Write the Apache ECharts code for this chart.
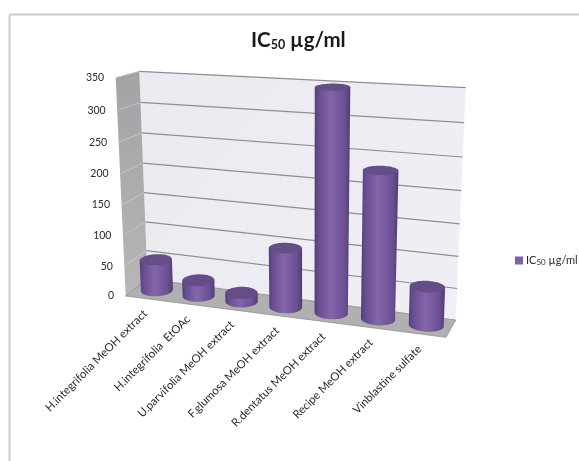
<!DOCTYPE html>
<html>
<head>
<meta charset="utf-8">
<style>html,body{margin:0;padding:0;background:#fff}#chart{width:579px;height:461px}</style>
<script src="https://cdn.jsdelivr.net/npm/echarts@6/dist/echarts.min.js"></script>
</head>
<body>
<div id="chart"></div>
<script>
const categories = ['H.integrifolia MeOH extract', 'H.integrifolia  EtOAc', 'U.parvifolia MeOH extract',
  'F.glumosa MeOH extract', 'R.dentatus MeOH extract', 'Recipe MeOH extract', 'Vinblastine sulfate'];
const icValues = [52, 26, 14, 96, 349, 231, 61];
const yTicks = [0, 50, 100, 150, 200, 250, 300, 350];
const seriesName = 'IC50 µg/ml';

// Plot rectangle of the flat cartesian grid, later projected onto the 3D box.
const GRID = { left: 140, top: 72, width: 320, height: 250 };

// Corners of the box planes, ordered bottom-left, bottom-right, top-right, top-left.
const BACK_PLANE = [[147.5, 279], [455.7, 320], [465.7, 87.7], [139.3, 71.3]];
const FRONT_PLANE = [[125.7, 296], [446, 337.3], [453, 100], [115.7, 77.7]];

// Unit square to quadrilateral homography.
function squareToQuad(q) {
  const [[x0, y0], [x1, y1], [x2, y2], [x3, y3]] = q;
  const dx1 = x1 - x2, dx2 = x3 - x2, sx = x0 - x1 + x2 - x3;
  const dy1 = y1 - y2, dy2 = y3 - y2, sy = y0 - y1 + y2 - y3;
  const den = dx1 * dy2 - dx2 * dy1;
  const g = (sx * dy2 - dx2 * sy) / den;
  const h = (dx1 * sy - sx * dy1) / den;
  const a = x1 - x0 + g * x1, b = x3 - x0 + h * x3, c = x0;
  const d = y1 - y0 + g * y1, e = y3 - y0 + h * y3, f = y0;
  return (u, w) => {
    const k = g * u + h * w + 1;
    return [(a * u + b * w + c) / k, (d * u + e * w + f) / k];
  };
}
const backMap = squareToQuad(BACK_PLANE);
const frontMap = squareToQuad(FRONT_PLANE);

// Grid pixel plus depth (0 = back wall, 1 = front edge) to screen position.
function project(px, py, depth) {
  const u = (px - GRID.left) / GRID.width;
  const w = 1 - (py - GRID.top) / GRID.height;
  const b = backMap(u, w), f = frontMap(u, w);
  return [b[0] + (f[0] - b[0]) * depth, b[1] + (f[1] - b[1]) * depth];
}

const BAR_RADIUS = 0.35;    // share of a category band
const DEPTH_RADIUS = 0.34;  // share of the floor depth

function ring(cx, py, band) {
  const pts = [];
  for (let i = 0; i < 64; i++) {
    const t = i / 64 * Math.PI * 2;
    pts.push(project(cx + Math.cos(t) * band * BAR_RADIUS, py, 0.5 + Math.sin(t) * DEPTH_RADIUS));
  }
  return pts;
}

function cylinder(params, api) {
  const cat = api.value(0), val = api.value(1);
  const top = api.coord([cat, val]);
  const base = api.coord([cat, 0]);
  const band = api.size([1, 0])[0];
  const topRing = ring(top[0], top[1], band);
  const baseRing = ring(base[0], base[1], band);
  const extreme = (r, sign) => r.reduce((best, p, i) => (p[0] * sign > r[best][0] * sign ? i : best), 0);
  const iRight = extreme(baseRing, 1), iLeft = extreme(baseRing, -1);
  const lower = [];
  for (let i = iRight; ; i = (i + 1) % 64) {
    lower.push(baseRing[i]);
    if (i === iLeft) break;
  }
  const body = [topRing[extreme(topRing, -1)], topRing[extreme(topRing, 1)]].concat(lower);
  return {
    type: 'group',
    children: [
      {
        type: 'polygon',
        shape: { points: body },
        style: {
          fill: new echarts.graphic.LinearGradient(0, 0, 1, 0, [
            { offset: 0, color: '#523d75' },
            { offset: 0.1, color: '#664c8f' },
            { offset: 0.45, color: '#8465ab' },
            { offset: 0.85, color: '#6a4f93' },
            { offset: 1, color: '#503c72' }
          ])
        }
      },
      { type: 'polygon', shape: { points: topRing }, style: { fill: '#654d85' } }
    ]
  };
}

// Back wall, side wall and floor of the box.
function box(params, api) {
  const l = GRID.left, r = GRID.left + GRID.width;
  const t = api.coord([0, 350])[1], b = api.coord([0, 0])[1];
  return {
    type: 'group',
    children: [
      {
        type: 'polygon',
        shape: { points: [project(l, b, 0), project(r, b, 0), project(r, t, 0), project(l, t, 0)] },
        style: {
          fill: new echarts.graphic.LinearGradient(0, 0, 1, 1, [
            { offset: 0, color: '#ebeaf0' },
            { offset: 1, color: '#f1eff6' }
          ])
        }
      },
      {
        type: 'polygon',
        shape: { points: [project(l, b, 1), project(l, b, 0), project(l, t, 0), project(l, t, 1)] },
        style: {
          fill: new echarts.graphic.LinearGradient(0, 0, 0, 1, [
            { offset: 0, color: '#a3a3a5' },
            { offset: 1, color: '#b6b6b9' }
          ])
        }
      },
      {
        type: 'polygon',
        shape: { points: [project(l, b, 1), project(r, b, 1), project(r, b, 0), project(l, b, 0)] },
        style: { fill: '#b0afb1', stroke: '#8e8d8f', lineWidth: 0.8 }
      }
    ]
  };
}

// One gridline along the side wall and the back wall, with its tick label.
function gridLine(params, api) {
  const v = api.value(0);
  const y = api.coord([0, v])[1];
  const l = GRID.left, r = GRID.left + GRID.width;
  const a = project(l, y, 1), c = project(l, y, 0), d = project(r, y, 0);
  const kids = [{
    type: 'text',
    x: a[0] - 11.5,
    y: a[1],
    style: { text: String(v), fill: '#2a2a2a', font: '10.5px Lato', textAlign: 'right', textVerticalAlign: 'middle' }
  }];
  if (v > 0) {
    kids.push({ type: 'line', shape: { x1: a[0], y1: a[1], x2: c[0], y2: c[1] }, style: { stroke: '#c4c4c6', lineWidth: 1 } });
    kids.push({ type: 'line', shape: { x1: c[0], y1: c[1], x2: d[0], y2: d[1] }, style: { stroke: '#8f8e90', lineWidth: 1.2 } });
  }
  return { type: 'group', children: kids };
}

// Slanted category label hanging under the front edge of the floor.
function categoryLabel(params, api) {
  const i = api.value(0);
  const p = api.coord([i, 0]);
  const q = project(p[0], p[1], 1);
  return {
    type: 'text',
    x: q[0] - 1.5,
    y: q[1] + 13,
    rotation: Math.PI / 4,
    style: { text: categories[i], fill: '#2a2a2a', font: '11.3px Lato', textAlign: 'right', textVerticalAlign: 'middle' }
  };
}

const richTitle = {
  a: { fontFamily: 'Lato', fontSize: 20.5, fontWeight: 'bold', color: '#1a1a1a' },
  b: { fontFamily: 'Lato', fontSize: 12.5, fontWeight: 'bold', color: '#1a1a1a', verticalAlign: 'bottom', padding: [6, 0, 0, 0] }
};
const richLegend = {
  a: { fontFamily: 'Lato', fontSize: 11, color: '#2a2a2a' },
  b: { fontFamily: 'Lato', fontSize: 8, color: '#2a2a2a', verticalAlign: 'bottom', padding: [3, 0, 0, 0] }
};

const chart = echarts.init(document.getElementById('chart'), null, { renderer: 'canvas' });
chart.setOption({
  animation: false,
  backgroundColor: '#ffffff',
  color: ['#7f61a5'],
  title: {
    text: '{a|IC}{b|50}{a| µg/ml}',
    left: 251,
    top: 30,
    padding: 0,
    textStyle: { rich: richTitle }
  },
  legend: {
    data: [seriesName],
    left: 515,
    top: 255,
    padding: 0,
    itemWidth: 8,
    itemHeight: 8,
    itemGap: 0,
    icon: 'rect',
    formatter: () => '{a|IC}{b|50}{a| µg/ml}',
    textStyle: { rich: richLegend, padding: [0, 0, 0, -2] }
  },
  grid: GRID,
  xAxis: { type: 'category', data: categories, show: false },
  yAxis: { type: 'value', min: 0, max: 350, interval: 50, show: false },
  graphic: [
    { type: 'line', silent: true, shape: { x1: 9.5, y1: 14.5, x2: 579, y2: 14.5 }, style: { stroke: '#c9c9c9', lineWidth: 2 } },
    { type: 'line', silent: true, shape: { x1: 9.5, y1: 14.5, x2: 9.5, y2: 461 }, style: { stroke: '#c9c9c9', lineWidth: 2 } }
  ],
  series: [
    { type: 'custom', name: 'box', silent: true, clip: false, z: 1, data: [[0]], encode: { x: 0 }, renderItem: box },
    { type: 'custom', name: 'gridlines', silent: true, clip: false, z: 2, data: yTicks.map(v => [v]), encode: { y: 0 }, renderItem: gridLine },
    { type: 'custom', name: 'labels', silent: true, clip: false, z: 2, data: categories.map((c, i) => [i]), encode: { x: 0 }, renderItem: categoryLabel },
    {
      type: 'custom',
      name: seriesName,
      clip: false,
      z: 3,
      itemStyle: { color: '#7f61a5' },
      encode: { x: 0, y: 1 },
      data: icValues.map((v, i) => [i, v]),
      renderItem: cylinder
    }
  ]
});
</script>
</body>
</html>
